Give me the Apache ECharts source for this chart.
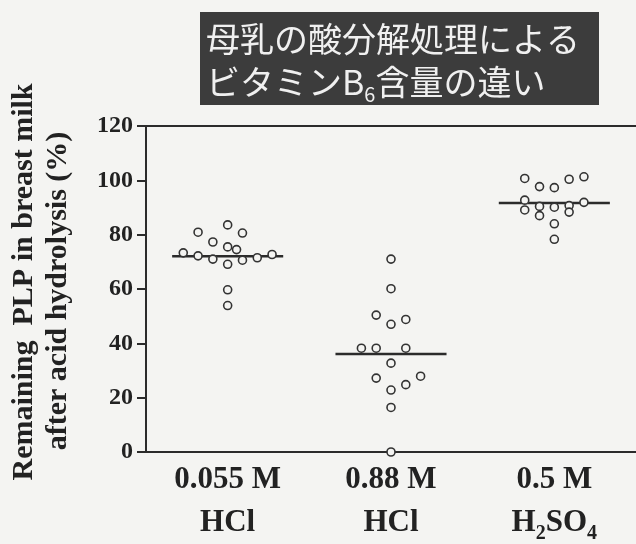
<!DOCTYPE html>
<html>
<head>
<meta charset="utf-8">
<script src="https://cdn.jsdelivr.net/npm/echarts@6/dist/echarts.min.js"></script>
<style>
  html, body { margin: 0; padding: 0; background: #f4f4f2; }
  #chart { width: 636px; height: 544px; }
</style>
</head>
<body>
<div id="chart"></div>
<script>
// Treatments (two-line category labels)
const acidStrength = ['0.055 M', '0.88 M', '0.5 M'];
const acidName = ['HCl', 'HCl', 'H{sub|2}SO{sub|4}'];

// Remaining PLP (%) per milk sample, one array per treatment
const hcl055 = [83.6, 80.9, 80.6, 77.3, 75.5, 74.5, 73.3, 72.2, 71.0, 69.1, 70.6, 71.5, 72.7, 59.7, 53.9];
const hcl088 = [71.0, 60.1, 50.4, 48.8, 47.0, 38.2, 38.2, 38.2, 32.7, 27.2, 27.9, 24.8, 22.8, 16.4, 0];
const h2so4  = [100.7, 97.7, 97.3, 100.4, 101.3, 92.7, 89.1, 90.4, 87.0, 90.1, 90.7, 88.3, 91.9, 84.0, 78.3];

// Median bar drawn for each treatment
const medians = [72.1, 36.1, 91.7];

// Y axis ticks
const yTicks = [0, 20, 40, 60, 80, 100, 120];

// Dot-plot column of each sample inside its group (swarm layout, in columns)
const hcl055Cols = [0, -2, 1, -1, 0, 0.6, -3, -2, -1, 0, 1, 2, 3, 0, 0];
const hcl088Cols = [0, 0, -1, 1, 0, -2, -1, 1, 0, -1, 2, 1, 0, 0, 0];
const h2so4Cols  = [-2, -1, 0, 1, 2, -2, -2, -1, -1, 0, 1, 1, 2, 0, 0];

const COL_STEP = 14.8;
const INK = '#2b2b2b';
const SERIF = '"Liberation Serif", "Times New Roman", serif';
const CJK = '"Noto Sans CJK JP", sans-serif';

const groups = [hcl055, hcl088, h2so4];
const groupCols = [hcl055Cols, hcl088Cols, h2so4Cols];

const points = [];
groups.forEach(function (vals, gi) {
  vals.forEach(function (v, i) {
    points.push({ value: [gi, v], symbolOffset: [groupCols[gi][i] * COL_STEP, 0] });
  });
});

const chart = echarts.init(document.getElementById('chart'), null, { renderer: 'canvas' });

chart.setOption({
  backgroundColor: '#f4f4f2',
  animation: false,
  grid: { left: 146, right: -3, top: 126, bottom: 88, containLabel: false },
  xAxis: [
    {
      type: 'category',
      data: acidStrength,
      boundaryGap: true,
      axisLine: { lineStyle: { color: INK, width: 2 } },
      axisTick: { show: false },
      axisLabel: {
        margin: 6,
        interval: 0,
        formatter: function (val, idx) {
          return '{main|' + val + '}\n{main|' + acidName[idx].replace(/\{sub\|(\d)\}/g, '}{sub|$1}{main|') + '}';
        },
        rich: {
          main: { fontFamily: SERIF, fontWeight: 'bold', fontSize: 31, lineHeight: 43, color: '#222' },
          sub: { fontFamily: SERIF, fontWeight: 'bold', fontSize: 20, lineHeight: 22, verticalAlign: 'bottom', color: '#222' }
        }
      }
    },
    {
      type: 'category',
      position: 'top',
      data: acidStrength,
      axisLine: { lineStyle: { color: INK, width: 2 } },
      axisTick: { show: false },
      axisLabel: { show: false }
    }
  ],
  yAxis: {
    type: 'value',
    min: yTicks[0],
    max: yTicks[yTicks.length - 1],
    interval: 20,
    splitLine: { show: false },
    axisLine: { show: true, lineStyle: { color: INK, width: 2 } },
    axisTick: { show: true, inside: false, length: 9, lineStyle: { color: INK, width: 2 } },
    axisLabel: {
      margin: 13,
      fontFamily: SERIF,
      fontWeight: 'bold',
      fontSize: 24,
      color: '#222'
    }
  },
  series: [
    {
      type: 'custom',
      name: 'median',
      z: 2,
      data: medians.map(function (m, i) { return [i, m]; }),
      renderItem: function (params, api) {
        const c = api.coord([api.value(0), api.value(1)]);
        const half = api.size([1, 0])[0] * 0.34;
        return {
          type: 'line',
          shape: { x1: c[0] - half, y1: c[1], x2: c[0] + half, y2: c[1] },
          style: { stroke: INK, lineWidth: 2.5 }
        };
      }
    },
    {
      type: 'scatter',
      name: 'samples',
      z: 3,
      symbol: 'circle',
      symbolSize: 8,
      itemStyle: { color: '#f4f4f2', borderColor: '#333', borderWidth: 1.6, opacity: 1 },
      data: points
    }
  ],
  graphic: [
    {
      type: 'rect',
      shape: { x: 200, y: 12, width: 399, height: 93 },
      style: { fill: '#3c3c3c' }
    },
    {
      type: 'text',
      x: 206,
      y: 18,
      style: {
        text: '{t|母乳の酸分解処理による}\n{t|ビタミンB}{s|6}{t|含量の違い}',
        fill: '#f0f0f0',
        rich: {
          t: { fontFamily: CJK, fontSize: 34, lineHeight: 43, fill: '#f0f0f0' },
          s: { fontFamily: CJK, fontSize: 20, lineHeight: 20, verticalAlign: 'bottom', fill: '#f0f0f0' }
        },
        verticalAlign: 'top',
        align: 'left'
      }
    },
    {
      type: 'text',
      x: 24,
      y: 282,
      rotation: Math.PI / 2,
      style: {
        text: 'Remaining  PLP in breast milk',
        font: 'bold 30px ' + SERIF,
        fill: '#222',
        align: 'center',
        verticalAlign: 'middle'
      }
    },
    {
      type: 'text',
      x: 58,
      y: 291,
      rotation: Math.PI / 2,
      style: {
        text: 'after acid hydrolysis (%)',
        font: 'bold 30px ' + SERIF,
        fill: '#222',
        align: 'center',
        verticalAlign: 'middle'
      }
    }
  ]
});
</script>
</body>
</html>
